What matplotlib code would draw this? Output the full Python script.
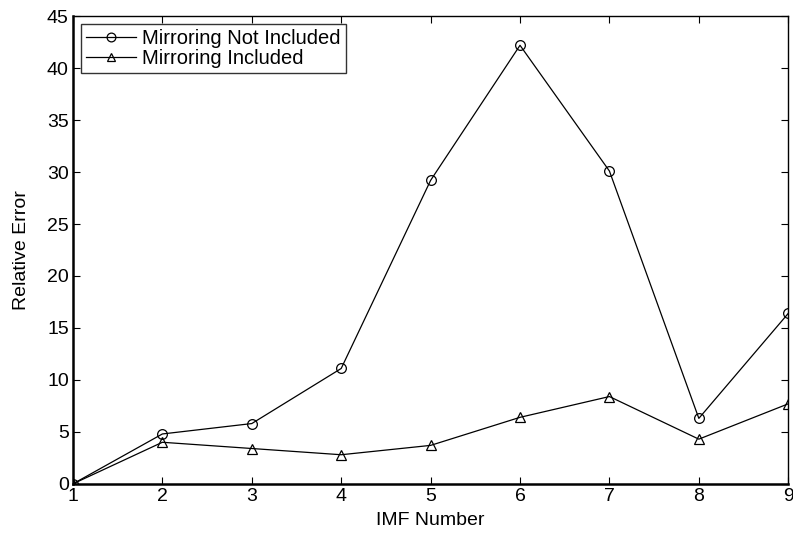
import numpy as np
import matplotlib.pyplot as plt

plt.rcParams['font.family'] = ['Liberation Sans', 'DejaVu Sans']

# datos
imf = [1, 2, 3, 4, 5, 6, 7, 8, 9]
sin_espejo = [0.0, 4.8, 5.8, 11.1, 29.2, 42.2, 30.1, 6.3, 16.4]
con_espejo = [0.0, 4.0, 3.4, 2.8, 3.7, 6.4, 8.4, 4.3, 7.7]

fig = plt.figure(figsize=(7.93, 5.40), dpi=100)
ax = fig.add_axes([0.092, 0.104, 0.902, 0.866])

ax.plot(imf, sin_espejo, 'k-', marker='o', mfc='none', mec='k', ms=7, lw=0.9,
        mew=0.9, label='Mirroring Not Included')
ax.plot(imf, con_espejo, 'k-', marker='^', mfc='none', mec='k', ms=7, lw=0.9,
        mew=0.9, label='Mirroring Included')

ax.set_xlim(1, 9)
ax.set_ylim(0, 45)
ax.set_xticks(range(1, 10))
ax.set_yticks(range(0, 50, 5))
ax.tick_params(direction='in', top=True, right=True, labelsize=14, length=5, width=0.8, pad=3)
for s in ax.spines.values():
    s.set_linewidth(1.0)
ax.spines['left'].set_linewidth(1.8)
ax.spines['bottom'].set_linewidth(1.8)

ax.set_xlabel('IMF Number', fontsize=14, labelpad=5)
ax.set_ylabel('Relative Error', fontsize=14, labelpad=12)

# texto algo más ancho para acercarse al ancho de la leyenda original
leg = ax.legend(loc='upper left', fontsize=14.5, fancybox=False, edgecolor='k',
                borderpad=0.25, labelspacing=0.05, handlelength=2.5, borderaxespad=0.38,
                handletextpad=0.3, markerscale=0.9)
leg.get_frame().set_linewidth(1.0)

fig.savefig('out.png', dpi=100)
